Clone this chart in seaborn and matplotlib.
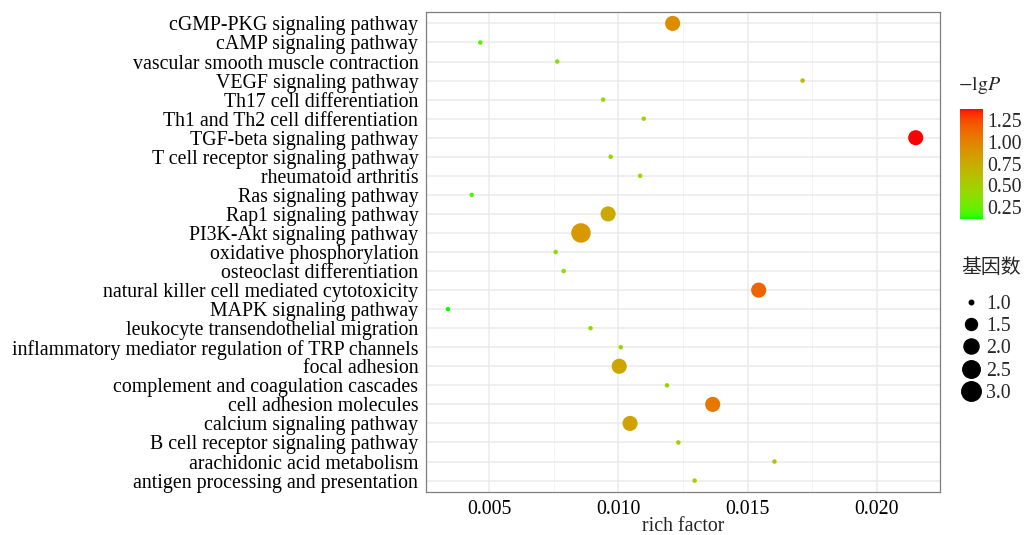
import numpy as np
import pandas as pd
import matplotlib
matplotlib.use('Agg')
import matplotlib.pyplot as plt
import seaborn as sns
from matplotlib.colors import ListedColormap, Normalize
from matplotlib.lines import Line2D
from matplotlib.ticker import MultipleLocator

# pathways, top to bottom as shown
pathways = [
    'cGMP-PKG signaling pathway', 'cAMP signaling pathway',
    'vascular smooth muscle contraction', 'VEGF signaling pathway',
    'Th17 cell differentiation', 'Th1 and Th2 cell differentiation',
    'TGF-beta signaling pathway', 'T cell receptor signaling pathway',
    'rheumatoid arthritis', 'Ras signaling pathway', 'Rap1 signaling pathway',
    'PI3K-Akt signaling pathway', 'oxidative phosphorylation',
    'osteoclast differentiation', 'natural killer cell mediated cytotoxicity',
    'MAPK signaling pathway', 'leukocyte transendothelial migration',
    'inflammatory mediator regulation of TRP channels', 'focal adhesion',
    'complement and coagulation cascades', 'cell adhesion molecules',
    'calcium signaling pathway', 'B cell receptor signaling pathway',
    'arachidonic acid metabolism', 'antigen processing and presentation',
]
rich_factor = [0.0121, 0.00465, 0.00763, 0.01713, 0.00941, 0.01098, 0.02151,
               0.0097, 0.01084, 0.00432, 0.0096, 0.00855, 0.00757, 0.00788,
               0.01543, 0.0034, 0.00892, 0.01009, 0.01003, 0.01188, 0.01365,
               0.01045, 0.01232, 0.01604, 0.01295]
neg_lg_p = [0.94, 0.20, 0.33, 0.66, 0.39, 0.44, 1.38, 0.40, 0.43, 0.18, 0.76,
            0.87, 0.33, 0.34, 1.15, 0.11, 0.37, 0.41, 0.78, 0.47, 1.06, 0.80,
            0.49, 0.60, 0.51]
gene_count = [2, 1, 1, 1, 1, 1, 2, 1, 1, 1, 2, 3, 1, 1, 2, 1, 1, 1, 2, 1, 2, 2,
              1, 1, 1]

size_levels = [1.0, 1.5, 2.0, 2.5, 3.0]


def size_of(v):
    # ggplot-like area scale: diameter ~ linear in sqrt of rescaled value
    d_px = 4.5 + 15.0 * np.sqrt((v - 1.0) / 2.0)
    return (d_px * 72 / 100) ** 2


# green -> red gradient interpolated in Lab space
_M = np.array([[0.4124564, 0.3575761, 0.1804375],
               [0.2126729, 0.7151522, 0.0721750],
               [0.0193339, 0.1191920, 0.9503041]])
_W = np.array([0.95047, 1.0, 1.08883])


def to_lab(rgb):
    rgb = np.asarray(rgb, float)
    lin = np.where(rgb <= 0.04045, rgb / 12.92, ((rgb + 0.055) / 1.055) ** 2.4)
    xyz = _M @ lin / _W
    d = 6 / 29
    f = np.where(xyz > d ** 3, np.cbrt(xyz), xyz / (3 * d ** 2) + 4 / 29)
    return np.array([116 * f[1] - 16, 500 * (f[0] - f[1]), 200 * (f[1] - f[2])])


def to_rgb(lab):
    L, a, b = lab
    fy = (L + 16) / 116
    f = np.array([fy + a / 500, fy, fy - b / 200])
    d = 6 / 29
    xyz = np.where(f > d, f ** 3, 3 * d ** 2 * (f - 4 / 29)) * _W
    lin = np.linalg.solve(_M, xyz)
    rgb = np.where(lin <= 0.0031308, 12.92 * lin, 1.055 * np.abs(lin) ** (1 / 2.4) - 0.055)
    return np.clip(rgb, 0, 1)


lo, hi = to_lab([0, 1, 0]), to_lab([1, 0, 0])
cmap = ListedColormap([to_rgb(lo + t * (hi - lo)) for t in np.linspace(0, 1, 256)])

df = pd.DataFrame({'pathway': pathways, 'rich': rich_factor,
                   'lgp': neg_lg_p, 'count': gene_count})

sns.set_style('white')
plt.rcParams['font.family'] = ['Liberation Serif', 'Noto Sans CJK SC']
plt.rcParams['mathtext.fontset'] = 'stix'
FS = 14.3

fig = plt.figure(figsize=(10.25, 5.35), dpi=100)
ax = fig.add_axes([426 / 1025, 1 - 492 / 535, 514 / 1025, 480 / 535])

vmin, vmax = min(neg_lg_p), max(neg_lg_p)
sns.scatterplot(data=df, x='rich', y='pathway', hue='lgp', palette=cmap,
                hue_norm=(vmin, vmax), size='count',
                sizes={c: size_of(c) for c in sorted(set(gene_count))},
                linewidth=0, legend=False, ax=ax, zorder=3)

n = len(pathways)
ax.set_ylim(n - 0.4, -0.6)
ax.set_xlim(0.00255, 0.02245)
ax.xaxis.set_major_locator(MultipleLocator(0.005))
ax.xaxis.set_minor_locator(MultipleLocator(0.0025))
ax.xaxis.set_major_formatter(plt.FuncFormatter(lambda v, p: f'{v:.3f}'))
ax.grid(True, which='major', color='#EBEBEB', linewidth=1.1, zorder=0)
ax.grid(True, which='minor', axis='x', color='#F3F3F3', linewidth=0.6, zorder=0)
ax.set_axisbelow(True)
for s in ax.spines.values():
    s.set_color('#7F7F7F')
    s.set_linewidth(0.9)
ax.tick_params(axis='both', which='major', length=3.5, width=0.9,
               color='#333333', labelsize=FS, labelcolor='black', pad=2)
ax.tick_params(axis='x', which='minor', length=0)
ax.set_xlabel('rich factor', fontsize=FS, labelpad=-1.5)
ax.set_ylabel('')

# colour bar
cax = fig.add_axes([960 / 1025, 1 - 219 / 535, 23 / 1025, 110 / 535])
sm = plt.cm.ScalarMappable(norm=Normalize(vmin, vmax), cmap=cmap)
cb = fig.colorbar(sm, cax=cax, ticks=[0.25, 0.5, 0.75, 1.0, 1.25])
cb.outline.set_visible(False)
cb.ax.set_yticklabels(['0.25', '0.50', '0.75', '1.00', '1.25'])
cb.ax.tick_params(length=4, width=0.8, color='white', direction='in',
                  labelsize=FS, pad=3, left=True)
fig.text(958 / 1025, 1 - 85 / 535, r'$-\mathrm{lg}P$', fontsize=FS, va='center')

# size legend
handles = [Line2D([], [], linestyle='none', marker='o', color='black',
                  markersize=np.sqrt(size_of(v))) for v in size_levels]
leg = fig.legend(handles, [f'{v:.1f}' for v in size_levels], title='基因数',
                 loc='upper left', bbox_to_anchor=(961 / 1025, 1 - 257 / 535),
                 frameon=False, fontsize=FS, title_fontsize=FS,
                 handlelength=1.0, handletextpad=0.25, labelspacing=0.17,
                 borderaxespad=0, borderpad=0)
leg._legend_box.align = 'left'
leg._legend_box.sep = 12
leg.get_title().set_family(['Noto Sans CJK SC'])

fig.savefig('out.png', dpi=100)
